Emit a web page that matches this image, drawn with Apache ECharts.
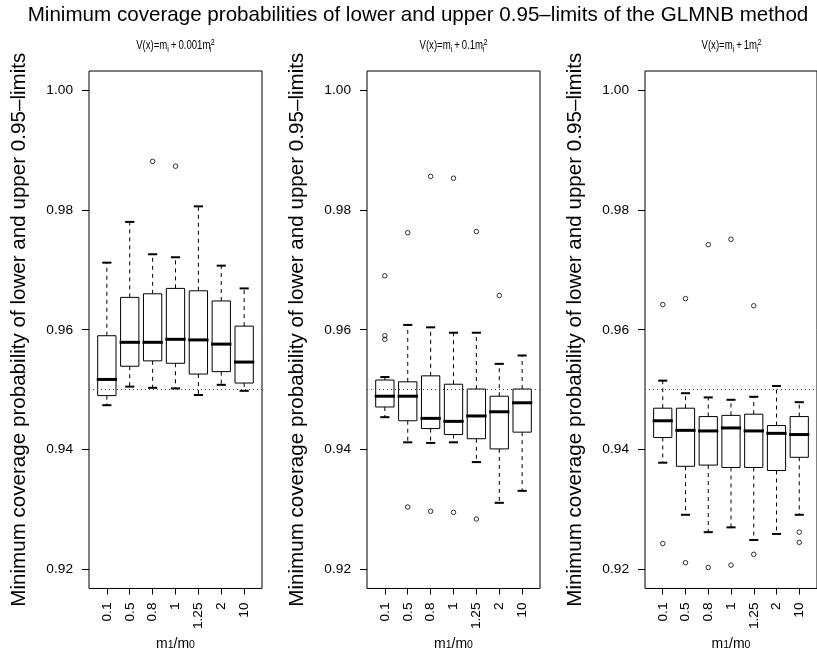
<!DOCTYPE html>
<html>
<head>
<meta charset="utf-8">
<script src="https://cdn.jsdelivr.net/npm/echarts@6/dist/echarts.min.js"></script>
<style>
  html, body { margin: 0; padding: 0; background: #fff; }
  #chart { width: 817px; height: 656px; }
</style>
</head>
<body>
<div id="chart"></div>
<script>
// ---- data -------------------------------------------------------------
const ratios = ['0.1', '0.5', '0.8', '1', '1.25', '2', '10'];
const yTicks = [0.92, 0.94, 0.96, 0.98, 1.00];
const nominal = 0.95;
const phiLabels = ['0.001', '0.1', '1'];

// V(x) = m_i + 0.001 m_i^2
const lower1  = [0.9474, 0.9505, 0.9503, 0.9502, 0.9491, 0.9508, 0.9498];
const q1_1    = [0.9490, 0.9539, 0.9548, 0.9544, 0.9526, 0.9530, 0.9511];
const median1 = [0.9517, 0.9579, 0.9579, 0.9584, 0.9583, 0.9576, 0.9546];
const q3_1    = [0.9590, 0.9654, 0.9660, 0.9669, 0.9665, 0.9648, 0.9606];
const upper1  = [0.9712, 0.9780, 0.9726, 0.9721, 0.9806, 0.9707, 0.9669];
const out1    = [[], [], [0.9881], [0.9873], [], [], []];

// V(x) = m_i + 0.1 m_i^2
const lower2  = [0.9454, 0.9412, 0.9411, 0.9412, 0.9379, 0.9311, 0.9331];
const q1_2    = [0.9471, 0.9448, 0.9435, 0.9425, 0.9418, 0.9401, 0.9429];
const median2 = [0.9489, 0.9489, 0.9452, 0.9447, 0.9456, 0.9463, 0.9478];
const q3_2    = [0.9516, 0.9513, 0.9523, 0.9509, 0.9501, 0.9489, 0.9501];
const upper2  = [0.9521, 0.9608, 0.9604, 0.9595, 0.9595, 0.9543, 0.9557];
const out2    = [[0.9690, 0.9590, 0.9584], [0.9762, 0.9304], [0.9856, 0.9297],
                 [0.9853, 0.9295], [0.9764, 0.9284], [0.9657], []];

// V(x) = m_i + 1 m_i^2
const lower3  = [0.9378, 0.9291, 0.9262, 0.9270, 0.9249, 0.9259, 0.9291];
const q1_3    = [0.9420, 0.9372, 0.9374, 0.9370, 0.9370, 0.9365, 0.9387];
const median3 = [0.9448, 0.9432, 0.9431, 0.9436, 0.9431, 0.9427, 0.9425];
const q3_3    = [0.9469, 0.9469, 0.9455, 0.9457, 0.9459, 0.9440, 0.9455];
const upper3  = [0.9515, 0.9494, 0.9487, 0.9483, 0.9488, 0.9506, 0.9479];
const out3    = [[0.9642, 0.9243], [0.9652, 0.9211], [0.9742, 0.9203],
                 [0.9751, 0.9207], [0.9640, 0.9225], [], [0.9262, 0.9245]];

// ---- layout -----------------------------------------------------------
const FONT = 'Liberation Sans, Arial, Helvetica, sans-serif';
const panels = [
  { left: 89,  lower: lower1, q1: q1_1, med: median1, q3: q3_1, upper: upper1, out: out1 },
  { left: 367, lower: lower2, q1: q1_2, med: median2, q3: q3_2, upper: upper2, out: out2 },
  { left: 645, lower: lower3, q1: q1_3, med: median3, q3: q3_3, upper: upper3, out: out3 }
];
const PLOT_TOP = 71, PLOT_H = 521, PLOT_W = 173;
const xPos = ratios.map((_, i) => i + 1);
const subRich = {
  sub: { fontSize: 9, fontFamily: FONT, color: '#000', verticalAlign: 'bottom', lineHeight: 9.5 },
  subS: { fontSize: 9, fontFamily: FONT, color: '#000', verticalAlign: 'bottom', lineHeight: 9.5, width: 0.5 },
  sup: { fontSize: 9, fontFamily: FONT, color: '#000', verticalAlign: 'top', lineHeight: 9.5 }
};
const xSubRich = {
  sub: { fontSize: 10.5, fontFamily: FONT, color: '#000', verticalAlign: 'bottom', lineHeight: 10 }
};

// R-style box: dashed whiskers, stapled ends, thick median
function renderBox(params, api) {
  const x = api.value(0);
  const pLo = api.coord([x, api.value(1)]);
  const pQ1 = api.coord([x, api.value(2)]);
  const pMd = api.coord([x, api.value(3)]);
  const pQ3 = api.coord([x, api.value(4)]);
  const pHi = api.coord([x, api.value(5)]);
  const w = api.size([0.8, 0])[0];
  const cx = pLo[0];
  const half = w / 2, cap = w / 4;
  const dashed = { stroke: '#000', lineWidth: 1, lineDash: [4, 4] };
  const staple = { stroke: '#000', lineWidth: 2 };
  return {
    type: 'group',
    children: [
      { type: 'line', shape: { x1: cx, y1: pQ3[1], x2: cx, y2: pHi[1] }, style: dashed },
      { type: 'line', shape: { x1: cx, y1: pQ1[1], x2: cx, y2: pLo[1] }, style: dashed },
      { type: 'line', shape: { x1: cx - cap, y1: pHi[1], x2: cx + cap, y2: pHi[1] }, style: staple },
      { type: 'line', shape: { x1: cx - cap, y1: pLo[1], x2: cx + cap, y2: pLo[1] }, style: staple },
      { type: 'rect', shape: { x: cx - half, y: pQ3[1], width: w, height: pQ1[1] - pQ3[1] },
        style: { fill: '#fff', stroke: '#000', lineWidth: 1 } },
      { type: 'line', shape: { x1: cx - half - 1, y1: pMd[1], x2: cx + half + 1, y2: pMd[1] },
        style: { stroke: '#000', lineWidth: 3 } }
    ]
  };
}

const grid = [], xAxis = [], yAxis = [], series = [], graphic = [];

panels.forEach((p, k) => {
  grid.push({
    left: p.left, top: PLOT_TOP, width: PLOT_W, height: PLOT_H,
    show: true, borderColor: '#000', borderWidth: 1, backgroundColor: 'transparent'
  });
  xAxis.push({
    gridIndex: k, type: 'value', min: 0.22, max: 7.78,
    splitLine: { show: false },
    axisLine: { show: false },
    axisTick: { show: true, customValues: xPos, length: 6, lineStyle: { color: '#000', width: 1 } },
    axisLabel: {
      customValues: xPos, rotate: 90, margin: 14,
      formatter: v => ratios[Math.round(v) - 1],
      fontSize: 13.7, fontFamily: FONT, color: '#000'
    },
    name: 'm{sub|1}/m{sub|0}', nameLocation: 'middle', nameGap: 40,
    nameTextStyle: { fontSize: 14, fontFamily: FONT, color: '#000', rich: xSubRich }
  });
  yAxis.push({
    gridIndex: k, type: 'value', min: 0.9168, max: 1.0032,
    splitLine: { show: false },
    axisLine: { show: false },
    axisTick: { show: true, customValues: yTicks, length: 7, lineStyle: { color: '#000', width: 1 } },
    axisLabel: {
      customValues: yTicks, margin: 16,
      formatter: v => v.toFixed(2),
      fontSize: 13.7, fontFamily: FONT, color: '#000'
    },
    name: 'Minimum coverage probability of lower and upper 0.95\u2013limits',
    nameLocation: 'middle', nameGap: 59,
    nameTextStyle: { fontSize: 20.6, fontFamily: FONT, color: '#000' }
  });
  series.push({
    type: 'custom', xAxisIndex: k, yAxisIndex: k, z: 2,
    renderItem: renderBox,
    encode: { x: 0, y: [1, 2, 3, 4, 5] },
    data: xPos.map((x, i) => [x, p.lower[i], p.q1[i], p.med[i], p.q3[i], p.upper[i]])
  });
  const pts = [];
  p.out.forEach((vals, i) => vals.forEach(v => pts.push([xPos[i], v])));
  series.push({
    type: 'scatter', xAxisIndex: k, yAxisIndex: k, z: 3,
    symbol: 'circle', symbolSize: 4.5,
    itemStyle: { color: 'transparent', borderColor: '#000', borderWidth: 1 },
    data: pts,
    markLine: {
      silent: true, symbol: 'none', label: { show: false },
      lineStyle: { type: [1, 3], color: '#444', width: 1 },
      data: [{ yAxis: nominal }]
    }
  });
  // panel heading, drawn in a condensed face
  graphic.push({
    type: 'text', x: p.left + PLOT_W / 2, y: 46, scaleX: 0.8,
    style: {
      text: 'V(x)=m{sub|i}\u2009+\u20090.001m{subS|i}{sup|2}'.replace('0.001', phiLabels[k]),
      fontSize: 12, fontFamily: FONT, fill: '#000', lineHeight: 16,
      align: 'center', verticalAlign: 'middle', rich: subRich
    }
  });
});

graphic.push({
  type: 'text', x: 418, y: 15,
  style: {
    text: 'Minimum coverage probabilities of lower and upper 0.95\u2013limits of the GLMNB method',
    fontSize: 20.6, fontFamily: FONT, fill: '#000', align: 'center', verticalAlign: 'middle'
  }
});

const chart = echarts.init(document.getElementById('chart'), null, { renderer: 'canvas' });
chart.setOption({
  animation: false,
  backgroundColor: '#fff',
  grid, xAxis, yAxis, series, graphic
});
</script>
</body>
</html>
